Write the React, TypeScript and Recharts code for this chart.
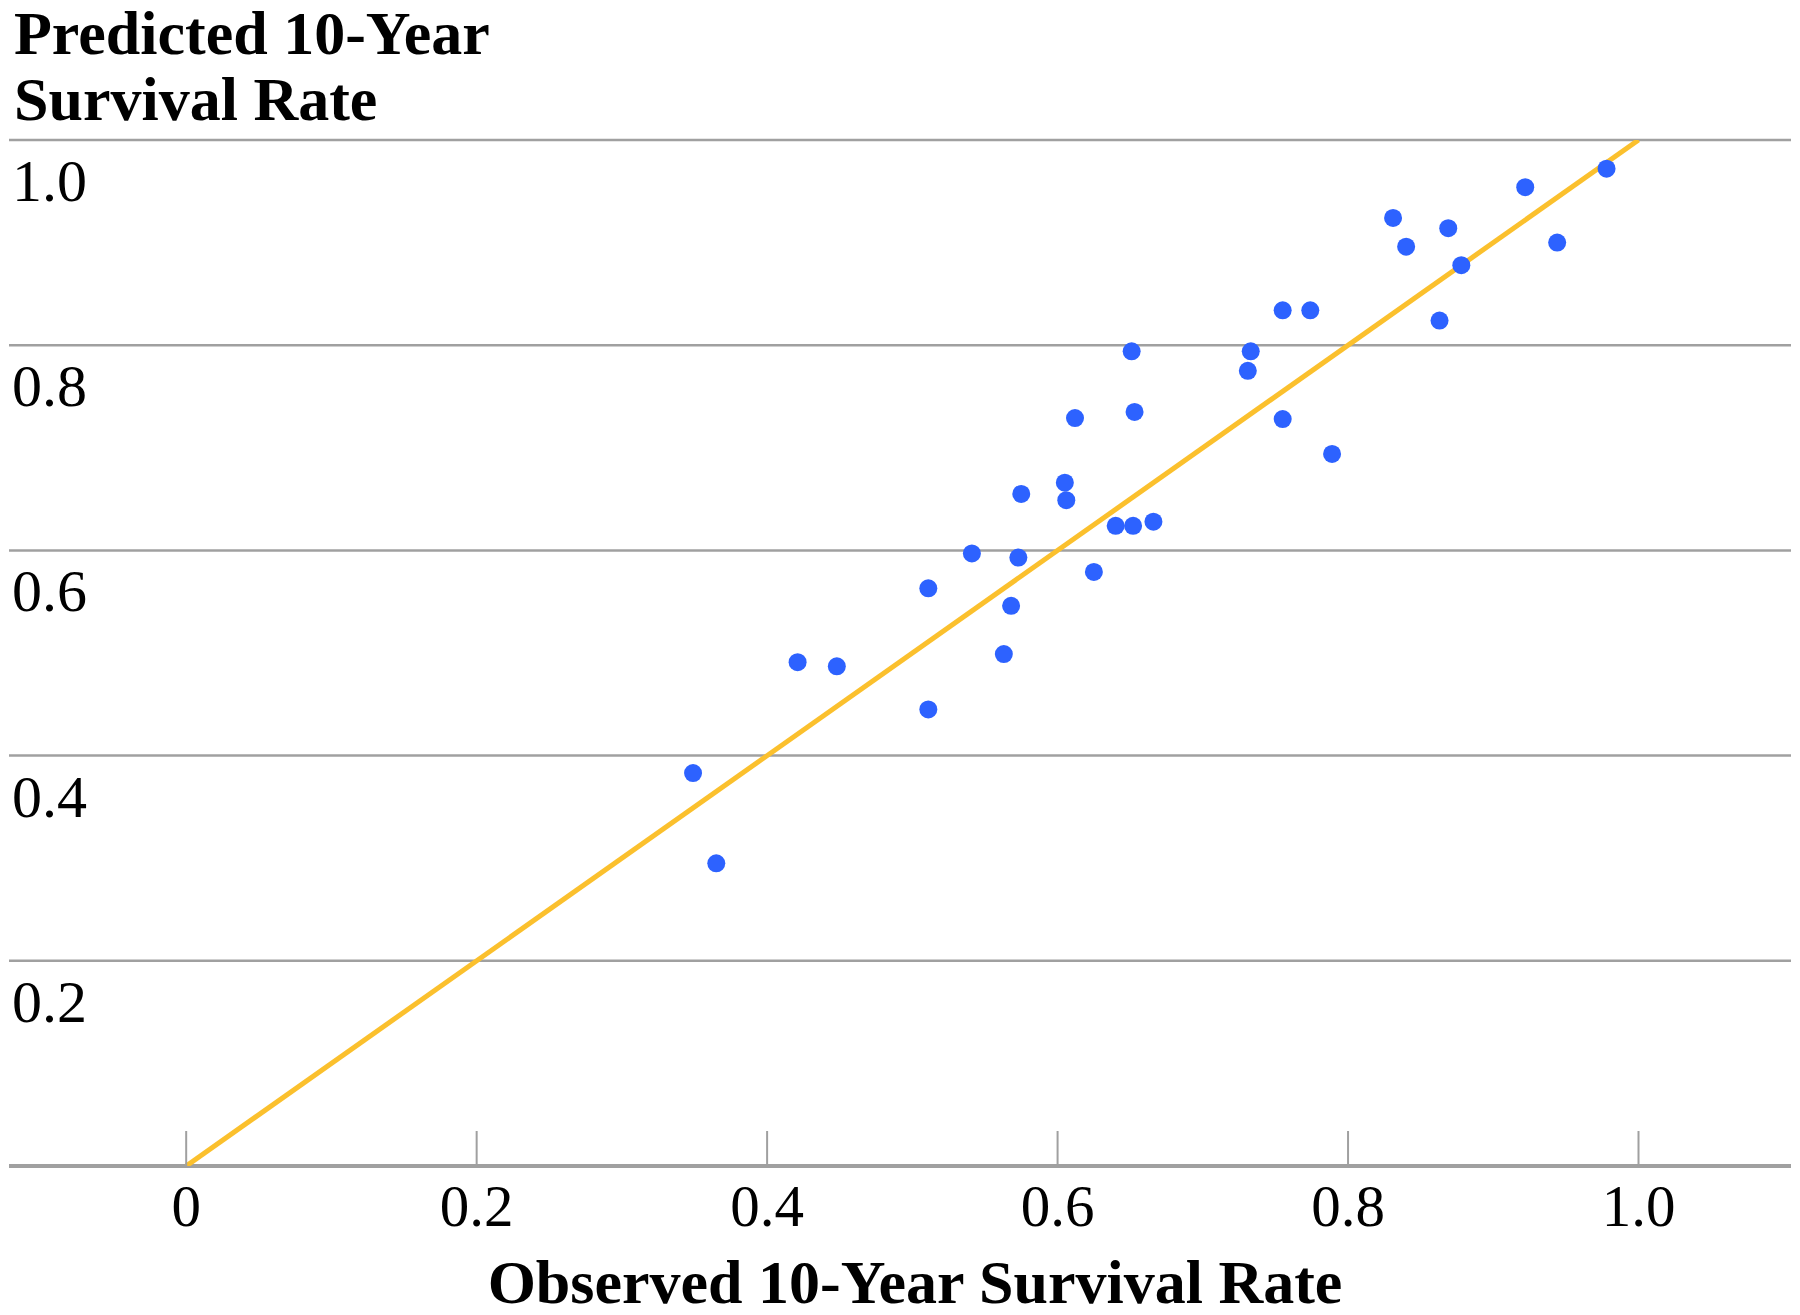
import { ScatterChart, Scatter, XAxis, YAxis, CartesianGrid } from 'recharts';

const observed = [
  0.978, 0.922, 0.831, 0.869, 0.840, 0.944, 0.878, 0.755, 0.774, 0.863,
  0.651, 0.733, 0.731, 0.653, 0.612, 0.755, 0.789,
  0.605, 0.606, 0.575, 0.640, 0.652, 0.666,
  0.541, 0.573, 0.625, 0.511, 0.568,
  0.563, 0.421, 0.448, 0.511,
  0.349, 0.365,
];

const predicted = [
  0.972, 0.954, 0.924, 0.914, 0.896, 0.900, 0.878, 0.834, 0.834, 0.824,
  0.794, 0.794, 0.775, 0.735, 0.729, 0.728, 0.694,
  0.666, 0.649, 0.655, 0.624, 0.624, 0.628,
  0.597, 0.593, 0.579, 0.563, 0.546,
  0.499, 0.491, 0.487, 0.445,
  0.383, 0.295,
];

const xTicks = [0, 0.2, 0.4, 0.6, 0.8, 1.0];
const xTickLabels = ['0', '0.2', '0.4', '0.6', '0.8', '1.0'];
const yTicks = [0, 0.2, 0.4, 0.6, 0.8, 1.0];
const yTickLabels = ['', '0.2', '0.4', '0.6', '0.8', '1.0'];
const identityLine = [0, 1];

const points = observed.map((x, i) => ({ x, y: predicted[i] }));
const diagonal = identityLine.map((v) => ({ x: v, y: v }));

const FONT = '"Liberation Serif", "Times New Roman", serif';
const GRID = '#a0a0a0';

// the tick line goes up from the axis, label sits below it
function XTick(props: any) {
  const { x, y, payload } = props;
  const idx = xTicks.indexOf(payload.value);
  return (
    <g>
      <line x1={x} x2={x} y1={y - 35} y2={y} stroke={GRID} strokeWidth={2} />
      <text x={x} y={y + 60} textAnchor="middle" fontFamily={FONT} fontSize={59} fill="#000">
        {xTickLabels[idx]}
      </text>
    </g>
  );
}

function YTick(props: any) {
  const { y, payload } = props;
  const idx = yTicks.indexOf(payload.value);
  return (
    <text x={12} y={y + 61} textAnchor="start" fontFamily={FONT} fontSize={60} fill="#000">
      {yTickLabels[idx]}
    </text>
  );
}

export default function App() {
  return (
    <div style={{ position: 'absolute', left: 0, top: 0, width: 1800, height: 1315, background: '#fff' }}>
      <ScatterChart width={1800} height={1315} margin={{ top: 140, right: 9, bottom: 49, left: 8 }}>
        <CartesianGrid horizontal vertical={false} stroke={GRID} strokeWidth={2.5} />
        <XAxis
          type="number"
          dataKey="x"
          domain={[-0.122, 1.105]}
          ticks={xTicks}
          tick={<XTick />}
          tickLine={false}
          tickSize={0}
          tickMargin={0}
          axisLine={{ stroke: GRID, strokeWidth: 4 }}
          height={100}
          interval={0}
          allowDataOverflow
        />
        <YAxis
          type="number"
          dataKey="y"
          domain={[0, 1]}
          ticks={yTicks}
          tick={<YTick />}
          tickLine={false}
          axisLine={false}
          width={1}
          interval={0}
          allowDataOverflow
        />
        <Scatter
          data={diagonal}
          line={{ stroke: '#fbc02d', strokeWidth: 5 }}
          shape={() => null}
          isAnimationActive={false}
        />
        <Scatter
          data={points}
          fill="#2d62ff"
          shape={(p: any) => <circle cx={p.cx} cy={p.cy} r={9} fill="#2d62ff" />}
          isAnimationActive={false}
        />
      </ScatterChart>
      <svg width={1800} height={1315} style={{ position: 'absolute', left: 0, top: 0, pointerEvents: 'none' }}>
        <text x={14} y={54} fontFamily={FONT} fontWeight="bold" fontSize={62} fill="#000">Predicted 10-Year</text>
        <text x={14} y={120} fontFamily={FONT} fontWeight="bold" fontSize={62} fill="#000">Survival Rate</text>
        <text x={915} y={1303} textAnchor="middle" fontFamily={FONT} fontWeight="bold" fontSize={62} fill="#000">
          Observed 10-Year Survival Rate
        </text>
      </svg>
    </div>
  );
}
